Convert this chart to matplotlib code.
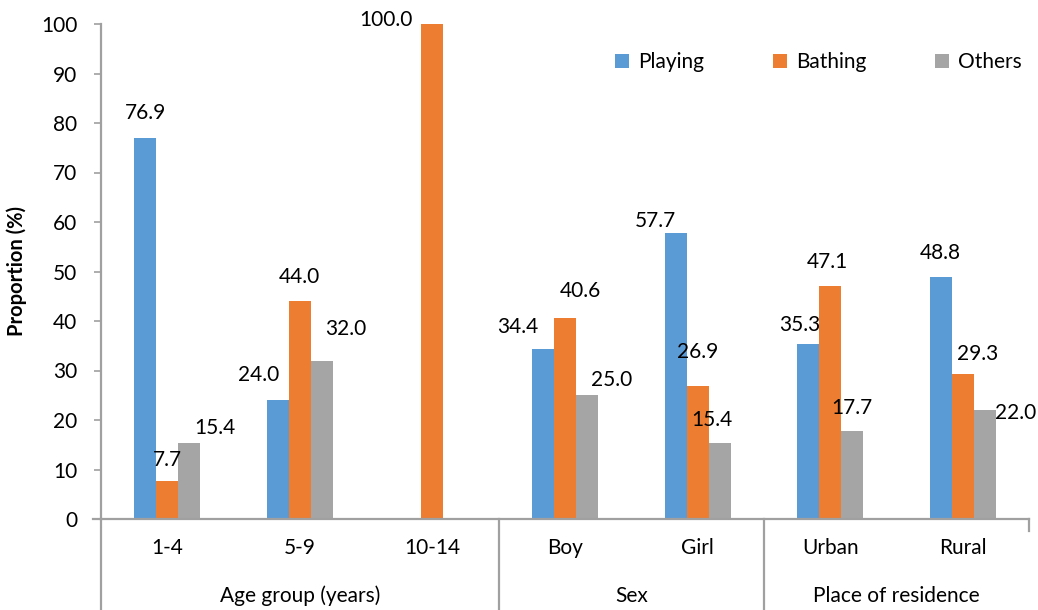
import numpy as np
import matplotlib
matplotlib.use("Agg")
import matplotlib.pyplot as plt
import matplotlib.transforms as mtransforms

plt.rcParams['font.family'] = ['Lato', 'DejaVu Sans']

categories = ["1-4", "5-9", "10-14", "Boy", "Girl", "Urban", "Rural"]
groups = ["Age group (years)", "Sex", "Place of residence"]
group_sizes = [3, 2, 2]
series_names = ["Playing", "Bathing", "Others"]
playing = [76.9, 24.0, None, 34.4, 57.7, 35.3, 48.8]
bathing = [7.7, 44.0, 100.0, 40.6, 26.9, 47.1, 29.3]
others = [15.4, 32.0, None, 25.0, 15.4, 17.7, 22.0]
yticks = [0, 10, 20, 30, 40, 50, 60, 70, 80, 90, 100]

colors = ["#5B9BD5", "#ED7D31", "#A5A5A5"]
axis_col = "#A0A0A0"

# label offsets in pixels (dx, dy) relative to bar top centre
offsets = [
    [(0, 25), (0, 21), (26, 15)],
    [(-19, 25), (0, 24), (24, 32)],
    [(0, 0), (-46, 4), (0, 0)],
    [(-25, 22), (15, 27), (25, 15)],
    [(-20, 12), (0, 34), (-8, 23)],
    [(-8, 19), (-3, 24), (0, 23)],
    [(0, 24), (15, 20), (31, -3)],
]

W, H = 1038, 610
fig = plt.figure(figsize=(W / 100, H / 100), dpi=100)
ax_l, ax_b, ax_w, ax_h = 101, 91, 928, 495
ax = fig.add_axes([ax_l / W, ax_b / H, ax_w / W, ax_h / H])

n = len(categories)
bw = 22 / (ax_w / n)
data = [playing, bathing, others]
fs = 15
for k, (vals, col, name) in enumerate(zip(data, colors, series_names)):
    v = np.array([np.nan if x is None else x for x in vals], dtype=float)
    xs = np.arange(n) + 0.5 + (k - 1) * bw
    ax.bar(xs, np.nan_to_num(v), width=bw, color=col, label=name, zorder=2)
    for i, (x, y) in enumerate(zip(xs, v)):
        if np.isnan(y):
            continue
        dx, dy = offsets[i][k]
        ax.annotate(f"{y:.1f}", (x, y), xytext=(dx * 0.72, dy * 0.72),
                    textcoords="offset points", ha="center", va="center",
                    fontsize=fs, color="#000000")

ax.set_xlim(0, n)
ax.set_ylim(0, 100)
ax.set_yticks(yticks)
ax.set_yticklabels([str(t) for t in yticks], fontsize=fs)
ax.tick_params(axis='y', length=5, width=1.2, color=axis_col, pad=12)
ax.set_xticks([])
for s in ["top", "right"]:
    ax.spines[s].set_visible(False)
for s in ["left", "bottom"]:
    ax.spines[s].set_color(axis_col)
    ax.spines[s].set_linewidth(1.6)

ax.set_ylabel("Proportion (%)", fontsize=14.5, fontweight="bold", labelpad=10)

# multi-level category axis
trans = mtransforms.blended_transform_factory(ax.transData, ax.transAxes)
bottom_y = -ax_b / ax_h
ax.plot([0, 0], [0, bottom_y], transform=trans, color=axis_col, lw=1.6, clip_on=False)
ax.plot([-0.06, 0], [0, 0], transform=trans, color=axis_col, lw=1.6, clip_on=False)
ax.plot([n, n], [0, -12 / ax_h], transform=trans, color=axis_col, lw=1.6, clip_on=False)
cat_y = -(548 - 519) / ax_h
grp_y = -(596 - 519) / ax_h
for i, c in enumerate(categories):
    ax.text(i + 0.5, cat_y, c, transform=trans, ha="center", va="center", fontsize=fs)
start = 0
for g, sz in zip(groups, group_sizes):
    ax.text(start + sz / 2, grp_y, g, transform=trans, ha="center", va="center", fontsize=fs)
    end = start + sz
    if end < n:
        ax.plot([end, end], [0, bottom_y], transform=trans, color=axis_col, lw=1.6, clip_on=False)
    start = end

leg = ax.legend(loc="center right", ncol=3, frameon=False, fontsize=fs,
                handlelength=0.65, handleheight=0.65, handletextpad=0.45,
                columnspacing=3.3, borderaxespad=0.0)
leg.set_bbox_to_anchor((1.0 + 1 / ax_w, (H - 62 - ax_b) / ax_h), transform=ax.transAxes)

fig.savefig("out.png", dpi=100)
